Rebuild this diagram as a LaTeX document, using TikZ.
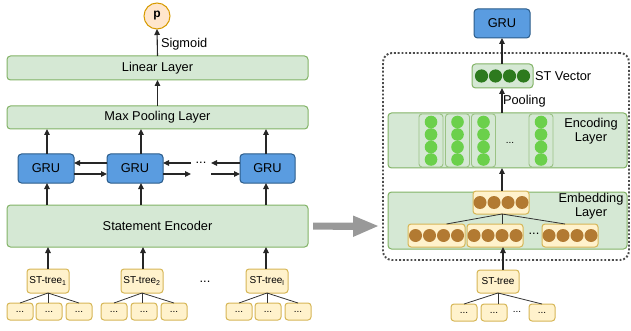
\documentclass[tikz,border=0pt]{standalone}
\usepackage{fontspec}
\setmainfont{Liberation Sans}
\usetikzlibrary{arrows.meta,calc}
\definecolor{gfill}{HTML}{D5E8D4}
\definecolor{gstroke}{HTML}{82B366}
\definecolor{yfill}{HTML}{FFF2CC}
\definecolor{ystroke}{HTML}{D6B656}
\definecolor{bfill}{HTML}{5A9CE0}
\definecolor{bstroke}{HTML}{2B5C8A}
\definecolor{pfill}{HTML}{FFE6CC}
\definecolor{pstroke}{HTML}{D79B00}
\definecolor{dkgreen}{HTML}{2D7A1E}
\definecolor{ltgreen}{HTML}{6BD04B}
\definecolor{brownc}{HTML}{B27A32}
\begin{document}
\begin{tikzpicture}[x=1pt,y=-1pt,
  every node/.style={inner sep=0pt,outer sep=0pt},
  txt/.style={font=\fontsize{12.8}{14}\selectfont},
  small/.style={font=\fontsize{10}{12}\selectfont},
  gbox/.style={draw=gstroke,fill=gfill,rounded corners=3.5pt,line width=1pt,txt},
  ybox/.style={draw=ystroke,fill=yfill,rounded corners=3pt,line width=1pt,small},
  bbox/.style={draw=bstroke,fill=bfill,rounded corners=3.5pt,line width=1pt,txt,minimum height=29pt},
  leaf/.style={ybox,minimum width=26pt,minimum height=17pt},
  stbox/.style={ybox,minimum width=42pt,minimum height=24pt},
  arr/.style={-{Triangle[length=6pt,width=5.5pt]},line width=1.1pt,draw=black!85},
  tline/.style={draw=black!80,line width=0.8pt},
  colbox/.style={draw=gstroke!80,fill=gfill,rounded corners=3pt,line width=0.9pt,minimum width=24pt,minimum height=53pt}
]
\useasboundingbox (0,0) rectangle (631,331);

% ---------------- left panel ----------------
\node[circle,draw=pstroke,fill=pfill,line width=1pt,minimum size=26pt,font=\fontsize{12}{14}\selectfont\bfseries] (p) at (157,16) {p};
\node[gbox,minimum width=301pt,minimum height=24pt] (lin) at (157.5,68) {Linear Layer};
\node[gbox,minimum width=301pt,minimum height=23pt] (mp) at (157.5,117.5) {Max Pooling Layer};
\node[bbox,minimum width=56pt] (g1) at (46,168.5) {GRU};
\node[bbox,minimum width=56pt] (g2) at (135,168.5) {GRU};
\node[bbox,minimum width=55pt] (g3) at (267.5,168.5) {GRU};
\node[gbox,minimum width=301pt,minimum height=42pt] (enc) at (157.5,226) {Statement Encoder};
\node[stbox] (st1) at (48,281) {ST-tree\textsubscript{1}};
\node[stbox] (st2) at (142,281) {ST-tree\textsubscript{2}};
\node[stbox] (st3) at (267,281) {ST-tree\textsubscript{l}};
\node[txt] (sd) at (205,282) {...};
\foreach \x [count=\i] in {20,49,79,114,144,174,239,268,298}
  \node[leaf] (lf\i) at (\x,311.5) {...};

\draw[arr] (lin.north) -- (p.south);
\node[txt,anchor=west] (sig) at (161,44) {Sigmoid};
\draw[arr] (mp.north) -- (lin.south);

\coordinate (c1) at (47,0);
\coordinate (c2) at (141,0);
\coordinate (c3) at (266,0);
\draw[arr] (g1.north -| c1) -- (mp.south -| c1);
\draw[arr] (g2.north -| c2) -- (mp.south -| c2);
\draw[arr] (g3.north -| c3) -- (mp.south -| c3);
\draw[arr] (enc.north -| c1) -- (g1.south -| c1);
\draw[arr] (enc.north -| c2) -- (g2.south -| c2);
\draw[arr] (enc.north -| c3) -- (g3.south -| c3);

\coordinate (s1) at (48,0);
\coordinate (s2) at (143,0);
\draw[arr] (st1.north -| s1) -- (enc.south -| s1);
\draw[arr] (st2.north -| s2) -- (enc.south -| s2);
\draw[arr] (st3.north -| c3) -- (enc.south -| c3);

% recurrent arrows
\coordinate (yl) at (0,163);
\coordinate (yr) at (0,174);
\node[txt] (gd) at (201,163) {...};
\coordinate (d1) at (191,168.5);
\coordinate (d2) at (211,168.5);
\draw[arr] (g2.west |- yl) -- (g1.east |- yl);
\draw[arr] (g1.east |- yr) -- (g2.west |- yr);
\draw[arr] (d1 |- yl) -- (g2.east |- yl);
\draw[arr] (g2.east |- yr) -- (d1 |- yr);
\draw[arr] (g3.west |- yl) -- (d2 |- yl);
\draw[arr] (d2 |- yr) -- (g3.west |- yr);

% tree lines
\foreach \s/\a/\b/\c in {st1/1/2/3,st2/4/5/6,st3/7/8/9}{
  \draw[tline] (\s.south) -- (lf\a.north);
  \draw[tline] (\s.south) -- (\s.south |- lf\b.north);
  \draw[tline] (\s.south) -- (lf\c.north);
}

% ---------------- right panel ----------------
\node[draw=black!70,line width=1.9pt,dash pattern=on 1.9pt off 1.9pt,rounded corners=9pt,minimum width=246pt,minimum height=207pt] (frame) at (506,156.5) {};

% big gray arrow
\coordinate (ga) at ($(enc.east)+(5,0)$);
\coordinate (gb) at ($(frame.west)+(-5,0)$);
\fill[gray!80] ($(ga)+(0,-3.5)$) -- ++(40,0) -- ++(0,-7) -- (gb |- ga) -- ($(ga)+(40,11)$) -- ++(0,-7) -- ($(ga)+(0,3.5)$) -- cycle;

\node[bbox,minimum width=56pt] (gt) at (502,23.5) {GRU};
\node[gbox,minimum width=61pt,minimum height=24pt] (stv) at (502.5,76) {};
\foreach \x in {481.5,495.5,509.5,523.5}
  \fill[dkgreen] (\x,76) circle (6.6pt);
\node[txt,anchor=west] (stvl) at (535,76) {ST Vector};

\node[gbox,minimum width=239pt,minimum height=55pt] (el) at (507.5,140.5) {};
\foreach \x [count=\i] in {431,457.5,483.5,541}{
  \node[colbox] (col\i) at (\x,140.5) {};
  \foreach \y in {122,134.5,147,159.5}
    \fill[ltgreen] (\x,\y) circle (6.3pt);
}
\node[small] (ed) at (510,143) {...};
\node[txt,align=center] (ell) at (591,131) {Encoding\\Layer};

\coordinate (mx) at (502,0);
\draw[arr] (el.north -| mx) -- (stv.south -| mx);
\node[txt,anchor=west] (pool) at (503,101) {Pooling};
\draw[arr] (stv.north -| mx) -- (gt.south -| mx);

\node[gbox,minimum width=239pt,minimum height=57pt] (emb) at (507.5,220.5) {};
\node[txt,align=center] (embl) at (591,206) {Embedding\\Layer};
\node[ybox,minimum width=56pt,minimum height=23pt] (ub) at (501,202.5) {};
\node[ybox,minimum width=57pt,minimum height=23pt] (lb1) at (436.5,235.5) {};
\node[ybox,minimum width=56pt,minimum height=23pt] (lb2) at (495,235.5) {};
\node[ybox,minimum width=56pt,minimum height=23pt] (lb3) at (570,235.5) {};
\node[txt] (bd) at (534,234) {...};
\foreach \cx/\cy in {501/202.5,436.5/235.5,495/235.5,570/235.5}
  \foreach \dx in {-21,-7,7,21}
    \fill[brownc] (\cx+\dx,\cy) circle (6.5pt);
\draw[arr] (ub.north -| mx) -- (el.south -| mx);
\draw[tline] (ub.south -| mx) -- ($(lb1.north)+(10,0)$);
\draw[tline] (ub.south -| mx) -- (lb2.north -| mx);
\draw[tline] (ub.south -| mx) -- ($(lb3.north)+(-5,0)$);

\node[stbox,minimum height=23pt] (str) at (498,281.5) {ST-tree};
\coordinate (mx2) at (503,0);
\draw[arr] (str.north -| mx2) -- (lb2.south -| mx2);
\node[leaf] (rl1) at (464,312.5) {...};
\node[leaf] (rl2) at (494,312.5) {...};
\node[leaf] (rl3) at (542,312.5) {...};
\node[small] (rd) at (517,312) {...};
\draw[tline] (str.south) -- (rl1.north);
\draw[tline] (str.south) -- (str.south |- rl2.north);
\draw[tline] (str.south) -- (rl3.north);
\end{tikzpicture}
\end{document}
